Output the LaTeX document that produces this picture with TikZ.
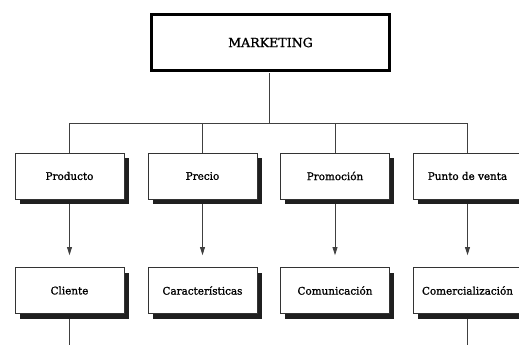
\documentclass[tikz,border=0pt]{standalone}
\usepackage{fontspec}
\setmainfont{DejaVu Serif}
\newfontfamily\labfont[FakeBold=1.2]{DejaVu Serif}
\usetikzlibrary{arrows.meta,shadows,calc}
\begin{document}
\begin{tikzpicture}[x=1pt,y=-1pt,
  box/.style={draw=black!80,line width=0.8pt,fill=white,minimum width=109pt,minimum height=46pt,
    inner sep=0pt,font=\labfont\fontsize{10.4}{12}\selectfont,
    drop shadow={shadow xshift=4.5pt,shadow yshift=-5pt,fill=black!88,opacity=1}},
  conn/.style={draw=black!75,line width=0.8pt},
  arr/.style={conn,-{Triangle[length=8pt,width=5pt]},shorten >=12pt}]
\useasboundingbox (0,0) rectangle (519,345);
\begin{scope}
\clip (0,0) rectangle (519,345);
\node[draw=black,line width=2.6pt,fill=white,minimum width=238pt,minimum height=56pt,inner sep=0pt,
  font=\labfont\fontsize{12.6}{14}\selectfont] (mk) at (270.5,42.5) {MARKETING};
\node[box] (p1) at (69.5,176) {Producto};
\node[box] (p2) at (202.5,176) {Precio};
\node[box] (p3) at (335,176) {Promoción};
\node[box] (p4) at (467.5,176) {Punto de venta};
\node[box] (c1) at (69.5,290.5) {Cliente};
\node[box] (c2) at (202.5,290.5) {Características};
\node[box] (c3) at (335,290.5) {Comunicación};
\node[box] (c4) at (467.5,290.5) {Comercialización};
\coordinate (bus) at (269,123);
\coordinate (e1) at (69.5,345);
\coordinate (e4) at (467.5,345);
\draw[conn] ([yshift=-1.3pt]mk.south -| bus) -- (bus);
\foreach \n in {p1,p2,p3,p4}{\draw[conn] (\n.north) |- (bus);}
\foreach \a/\b in {p1/c1,p2/c2,p3/c3,p4/c4}{\draw[arr] ([yshift=-5pt]\a.south) -- (\b.north);}
\draw[conn] ([yshift=-5pt]c1.south) -- (e1);
\draw[conn] ([yshift=-5pt]c4.south) -- (e4);
\end{scope}
\end{tikzpicture}
\end{document}
